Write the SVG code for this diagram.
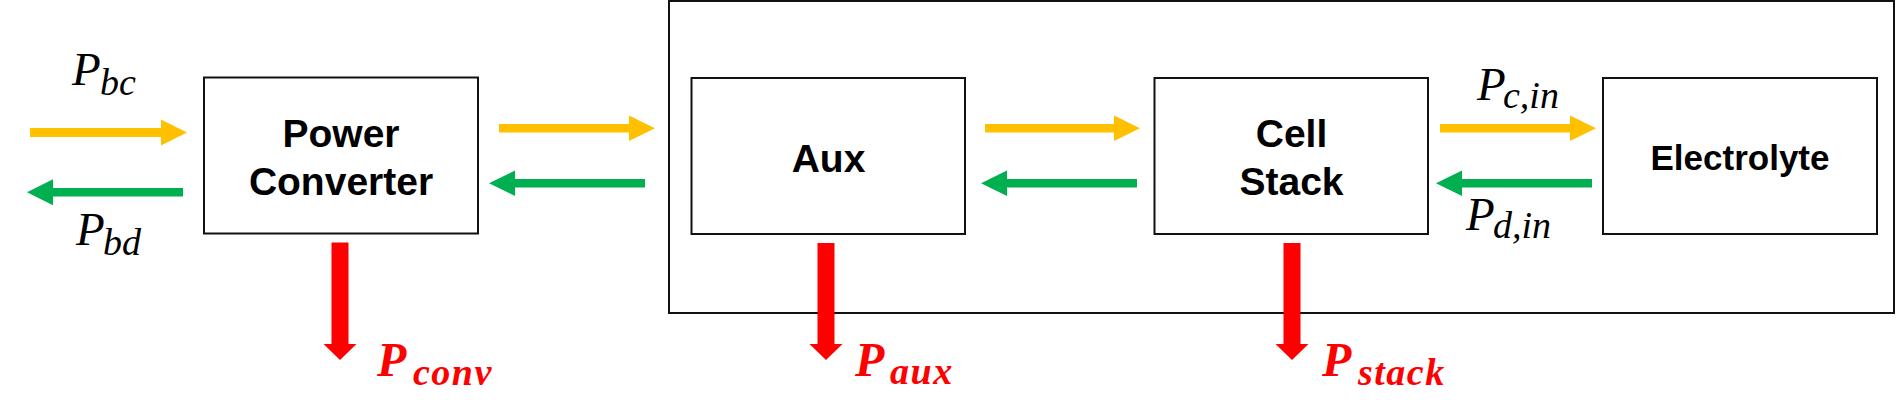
<svg xmlns="http://www.w3.org/2000/svg" width="1896" height="400" viewBox="0 0 1896 400">
<style>
.box{fill:#fff;stroke:#111;stroke-width:2}
.lbl{font-family:"Liberation Sans",Arial,sans-serif;font-weight:bold;font-size:39px;fill:#000;text-anchor:middle}
.m{font-family:"Liberation Serif","Times New Roman",serif;font-style:italic;font-size:47px;fill:#000}
.mr{font-family:"Liberation Serif","Times New Roman",serif;font-style:italic;font-weight:bold;font-size:48px;fill:#ff0000}
.s{font-size:38px}
.sr{font-size:38px;letter-spacing:1.5px}
.y{fill:#ffc000}
.g{fill:#00b050}
.r{fill:#ff0000}
</style>
<rect width="1896" height="400" fill="#fff"/>
<g id="system">
<rect class="box" x="669" y="1" width="1225" height="312"/>
</g>
<g id="power-converter">
<rect class="box" x="204" y="77.5" width="274" height="156"/>
<text class="lbl" x="341" y="147">Power</text>
<text class="lbl" x="341" y="195">Converter</text>
</g>
<g id="aux">
<rect class="box" x="691.5" y="78" width="273.5" height="156"/>
<text class="lbl" x="828.5" y="172">Aux</text>
</g>
<g id="cell-stack">
<rect class="box" x="1154.5" y="78" width="273.5" height="156"/>
<text class="lbl" x="1291.5" y="147">Cell</text>
<text class="lbl" x="1291.5" y="195">Stack</text>
</g>
<g id="electrolyte">
<rect class="box" x="1603" y="78" width="274" height="156"/>
<text class="lbl" x="1740" y="170" style="font-size:35px">Electrolyte</text>
</g>
<g id="connectors">
<polygon class="y" points="30,128 161,128 161,119.5 187,132.5 161,145.5 161,137 30,137"/>
<polygon class="g" points="27,192.3 53,179.3 53,188 183,188 183,196.6 53,196.6 53,205.3"/>
<polygon class="y" points="499,124 629,124 629,115.5 655,128.3 629,141 629,132.6 499,132.6"/>
<polygon class="g" points="489,183.3 515,170.5 515,179 645,179 645,187.6 515,187.6 515,196"/>
<polygon class="y" points="985,124 1114,124 1114,115.5 1140,128.3 1114,141 1114,132.6 985,132.6"/>
<polygon class="g" points="981,183.3 1007,170.5 1007,179 1137,179 1137,187.6 1007,187.6 1007,196"/>
<polygon class="y" points="1440,124 1570,124 1570,115.5 1596,128.3 1570,141 1570,132.6 1440,132.6"/>
<polygon class="g" points="1436,183.3 1462,170.5 1462,179 1592,179 1592,187.6 1462,187.6 1462,196"/>
<polygon class="r" points="331.5,242.5 348.5,242.5 348.5,344 356.5,344 340,360 323.5,344 331.5,344"/>
<polygon class="r" points="817.5,243 834.5,243 834.5,344 842.5,344 826,360 809.5,344 817.5,344"/>
<polygon class="r" points="1283.5,243 1300.5,243 1300.5,344 1308.5,344 1292,360 1275.5,344 1283.5,344"/>
</g>
<g id="labels">
<text class="m" x="72" y="85">P<tspan class="s" x="100" y="95">bc</tspan></text>
<text class="m" x="76" y="245">P<tspan class="s" x="103" y="255">bd</tspan></text>
<text class="m" x="1477" y="100">P<tspan class="s" x="1503" y="108">c,in</tspan></text>
<text class="m" x="1466" y="230">P<tspan class="s" x="1493" y="238">d,in</tspan></text>
<text class="mr" x="377" y="376">P<tspan class="sr" x="413" y="385">conv</tspan></text>
<text class="mr" x="855" y="376">P<tspan class="sr" x="890" y="384">aux</tspan></text>
<text class="mr" x="1322" y="376">P<tspan class="sr" x="1358" y="385">stack</tspan></text>
</g>
</svg>
